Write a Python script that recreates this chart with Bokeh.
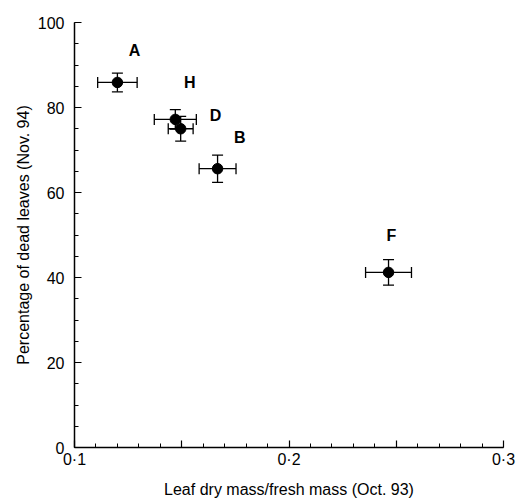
from bokeh.plotting import figure
from bokeh.models import ColumnDataSource, Whisker, FixedTicker, Range1d, TeeHead
from bokeh.embed import file_html
from bokeh.resources import INLINE
from bokeh.core.properties import value

sites = ["A", "H", "D", "B", "F"]
dry_ratio = [0.120, 0.147, 0.1495, 0.1667, 0.2464]
dry_err = [0.0092, 0.0098, 0.0058, 0.0086, 0.0107]
dead_pct = [85.9, 77.2, 75.0, 65.6, 41.2]
dead_err = [2.2, 2.3, 2.9, 3.2, 3.0]
label_x = [0.128, 0.1537, 0.1657, 0.1771, 0.2477]
label_y = [93.4, 85.9, 78.1, 73.0, 49.9]

x_ticks = [0.1, 0.15, 0.2, 0.25, 0.3]
x_tick_labels = ["0·1", "", "0·2", "", "0·3"]
x_minor = [round(0.1 + 0.01 * i, 2) for i in range(21)]
y_ticks = [0, 20, 40, 60, 80, 100]
y_tick_labels = ["0", "20", "40", "60", "80", "100"]
y_minor = list(range(0, 101, 5))

FONT = "Liberation Sans"

src = ColumnDataSource(dict(
    x=dry_ratio, y=dead_pct,
    x_lo=[a - b for a, b in zip(dry_ratio, dry_err)],
    x_hi=[a + b for a, b in zip(dry_ratio, dry_err)],
    y_lo=[a - b for a, b in zip(dead_pct, dead_err)],
    y_hi=[a + b for a, b in zip(dead_pct, dead_err)],
))
lbl = ColumnDataSource(dict(x=label_x, y=label_y, t=sites))

p = figure(width=518, height=501, x_range=Range1d(0.1, 0.3), y_range=Range1d(0, 100),
           output_backend="svg", toolbar_location=None,
           min_border_left=74, min_border_right=15, min_border_top=22, min_border_bottom=54)
p.outline_line_color = None
p.border_fill_color = "white"
p.background_fill_color = "white"
p.xgrid.visible = False
p.ygrid.visible = False

def head():
    return TeeHead(size=11, line_color="black", line_width=1.3)

p.add_layout(Whisker(source=src, base="y", lower="x_lo", upper="x_hi", dimension="width",
                     line_color="black", line_width=1.3, lower_head=head(), upper_head=head()))
p.add_layout(Whisker(source=src, base="x", lower="y_lo", upper="y_hi", dimension="height",
                     line_color="black", line_width=1.3, lower_head=head(), upper_head=head()))
p.scatter(x="x", y="y", source=src, size=10.5, fill_color="black", line_color="black")
p.text(x="x", y="y", text="t", source=lbl, text_font=value(FONT), text_font_size="16px",
       text_font_style="bold", text_align="center", text_baseline="middle", text_color="black")

for ax in (p.xaxis[0], p.yaxis[0]):
    ax.axis_line_width = 1.5
    ax.axis_line_color = "black"
    ax.major_tick_in = 7
    ax.major_tick_out = 0
    ax.minor_tick_in = 4
    ax.minor_tick_out = 0
    ax.major_tick_line_color = "black"
    ax.minor_tick_line_color = "black"
    ax.major_tick_line_width = 1.2
    ax.minor_tick_line_width = 1.0
    ax.major_label_text_font = FONT
    ax.major_label_text_font_size = "16px"
    ax.major_label_text_color = "black"
    ax.axis_label_text_font = FONT
    ax.axis_label_text_font_size = "16px"
    ax.axis_label_text_font_style = "normal"
    ax.axis_label_text_color = "black"

p.xaxis.ticker = FixedTicker(ticks=x_ticks, minor_ticks=x_minor)
p.xaxis.major_label_overrides = {t: l for t, l in zip(x_ticks, x_tick_labels)}
p.xaxis.major_label_standoff = 3
p.xaxis.axis_label = "Leaf dry mass/fresh mass (Oct. 93)"
p.xaxis.axis_label_standoff = 10

p.yaxis.ticker = FixedTicker(ticks=y_ticks, minor_ticks=y_minor)
p.yaxis.major_label_overrides = {t: l for t, l in zip(y_ticks, y_tick_labels)}
p.yaxis.major_label_standoff = 10
p.yaxis.axis_label = "Percentage of dead leaves (Nov. 94)"
p.yaxis.axis_label_standoff = 3

open("out.html", "w").write(file_html(p, INLINE))
